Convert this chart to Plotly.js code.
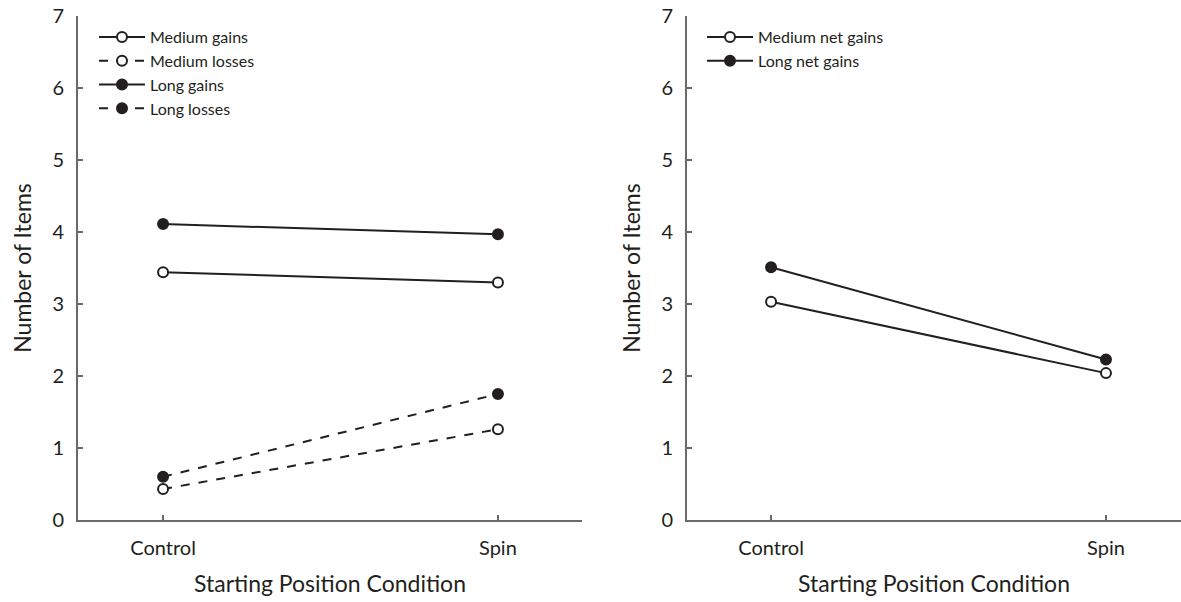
<!DOCTYPE html>
<html>
<head>
<meta charset="utf-8">
<script src="https://cdn.plot.ly/plotly-3.0.1.min.js"></script>
<style>html,body{margin:0;padding:0;background:#fff}#chart{width:1181px;height:602px}</style>
</head>
<body>
<div id="chart"></div>
<script>
// Categories
const conditions = ["Control", "Spin"];
const xPos = [0, 1];

// Left panel series
const mediumGains = [3.44, 3.30];
const mediumLosses = [0.43, 1.26];
const longGains = [4.11, 3.97];
const longLosses = [0.60, 1.75];

// Right panel series
const mediumNetGains = [3.03, 2.04];
const longNetGains = [3.51, 2.23];

// Tick labels
const yTicks = [0, 1, 2, 3, 4, 5, 6, 7];

const ink = "#231f20";
const axisGray = "#6a6a6a";
const fontFam = "Lato, 'Open Sans', sans-serif";

function tr(name, y, filled, dashed, xa, ya, legend) {
  return {
    type: "scatter", mode: "lines+markers", name: name,
    x: xPos, y: y, xaxis: xa, yaxis: ya, legend: legend,
    line: {color: ink, width: 2, dash: dashed ? "dash" : "solid"},
    marker: {symbol: "circle", size: 10, color: filled ? ink : "#ffffff",
             line: {color: ink, width: 2}},
    cliponaxis: false
  };
}

const data = [
  tr("Medium gains", mediumGains, false, false, "x", "y", "legend"),
  tr("Medium losses", mediumLosses, false, true, "x", "y", "legend"),
  tr("Long gains", longGains, true, false, "x", "y", "legend"),
  tr("Long losses", longLosses, true, true, "x", "y", "legend"),
  tr("Medium net gains", mediumNetGains, false, false, "x2", "y2", "legend2"),
  tr("Long net gains", longNetGains, true, false, "x2", "y2", "legend2")
];

function xaxis(domain, range, anchor) {
  return {
    domain: domain, range: range, anchor: anchor,
    tickvals: xPos, ticktext: conditions,
    showline: true, linecolor: axisGray, linewidth: 2,
    ticks: "inside", ticklen: 5, tickwidth: 1.5, tickcolor: axisGray,
    showgrid: false, zeroline: false,
    tickfont: {family: fontFam, size: 20, color: ink},
    ticklabelstandoff: 9,
    title: {text: "Starting Position Condition", font: {family: fontFam, size: 23, color: ink}, standoff: 18}
  };
}
function yaxis(domain, anchor) {
  return {
    domain: domain, range: [0, 7], anchor: anchor,
    tickvals: yTicks, ticktext: yTicks.map(String),
    showline: true, linecolor: axisGray, linewidth: 2,
    ticks: "inside", ticklen: 5, tickwidth: 1.5, tickcolor: axisGray,
    showgrid: false, zeroline: false,
    tickfont: {family: fontFam, size: 20, color: ink},
    ticklabelstandoff: 8,
    title: {text: "Number of Items", font: {family: fontFam, size: 23, color: ink}, standoff: 14}
  };
}

const yDom = [1 - 520/602, 1 - 16/602];
const layout = {
  width: 1181, height: 602,
  margin: {l: 0, r: 0, t: 0, b: 0},
  paper_bgcolor: "#ffffff", plot_bgcolor: "#ffffff",
  showlegend: true,
  xaxis: xaxis([78/1181, 582/1181], [-0.254, 1.251], "y"),
  yaxis: yaxis(yDom, "x"),
  xaxis2: xaxis([687/1181, 1], [-0.251, 1.224], "y2"),
  yaxis2: yaxis(yDom, "x2"),
  legend: {x: 94/1181, y: 1 - 20/602, xanchor: "left", yanchor: "top",
           bgcolor: "rgba(0,0,0,0)", font: {family: fontFam, size: 16, color: ink},
           itemwidth: 46, tracegroupgap: 0, itemclick: false},
  legend2: {x: 702/1181, y: 1 - 20/602, xanchor: "left", yanchor: "top",
           bgcolor: "rgba(0,0,0,0)", font: {family: fontFam, size: 16, color: ink},
           itemwidth: 46, tracegroupgap: 0, itemclick: false}
};

Plotly.newPlot("chart", data, layout, {staticPlot: true, displayModeBar: false});
</script>
</body>
</html>
